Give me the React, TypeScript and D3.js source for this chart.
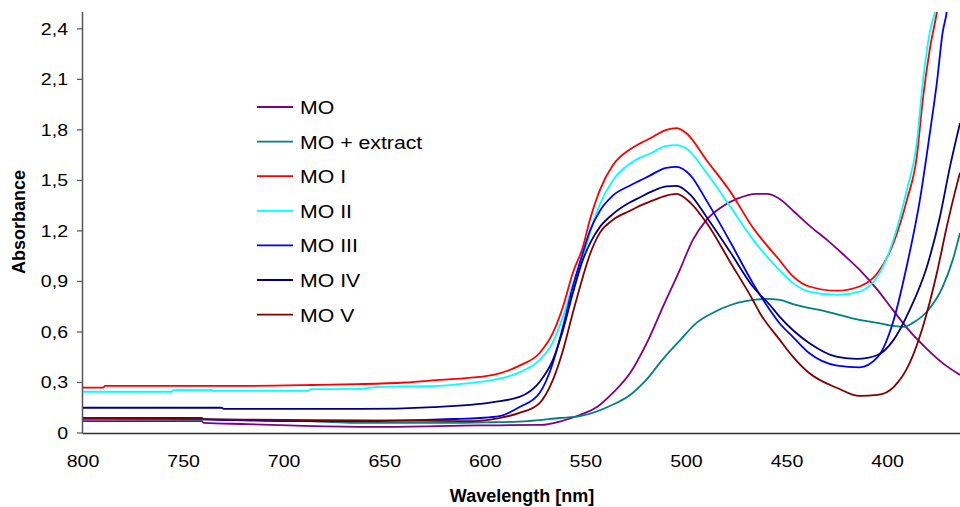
import * as d3 from 'd3';
import { useEffect, useRef } from 'react';

// [wavelength nm, absorbance]
const MO = [[800,0.07],[741,0.07],[740,0.06],[718,0.053],[690,0.042],[654,0.036],[603,0.045],[572,0.048],[563,0.068],[553,0.107],[544.5,0.154],[536.6,0.238],[528,0.356],[519.7,0.535],[511.7,0.749],[503.3,0.969],[496.8,1.147],[490,1.266],[483.4,1.335],[475,1.39],[465,1.42],[460,1.42],[453.6,1.39],[447,1.32],[438.7,1.23],[430,1.145],[422,1.06],[414,0.97],[405,0.85],[397,0.725],[389,0.605],[380.5,0.5],[372.6,0.415],[364,0.345]];
const MO_EXTRACT = [[800,0.083],[740,0.08],[700,0.075],[660,0.06],[620,0.06],[600,0.063],[579,0.071],[563,0.089],[553,0.1],[537,0.166],[528,0.226],[520,0.315],[512,0.434],[503,0.553],[495,0.654],[487,0.713],[478,0.76],[470,0.784],[460,0.796],[453.6,0.79],[447,0.765],[430,0.72],[414,0.672],[405,0.654],[397,0.636],[392,0.63],[387.5,0.654],[380.5,0.72],[372.6,0.868],[367.6,1.028],[364,1.188]];
const MO_I = [[800,0.27],[790,0.27],[789,0.28],[720,0.28],[686,0.285],[664,0.29],[640,0.3],[623,0.315],[603,0.333],[596,0.345],[583,0.4],[573,0.475],[566.4,0.594],[561.4,0.75],[556.5,0.95],[551.5,1.105],[548,1.266],[543,1.444],[536.6,1.59],[528,1.685],[523,1.72],[518,1.75],[510,1.8],[505,1.81],[500,1.78],[490,1.62],[478,1.43],[467,1.22],[454,1.03],[447,0.93],[439,0.87],[425,0.845],[414,0.87],[405,0.95],[397,1.13],[390.5,1.38],[385.5,1.64],[382.5,1.98],[379,2.28],[375.5,2.5],[372,2.8]];
const MO_II = [[800,0.245],[756,0.245],[755,0.255],[736,0.255],[735,0.25],[688,0.25],[687,0.26],[662,0.262],[654,0.273],[623,0.28],[603,0.303],[596,0.315],[583,0.36],[573,0.434],[566.4,0.54],[561.4,0.69],[556.5,0.88],[551.5,1.046],[548,1.188],[543,1.36],[536.6,1.5],[528,1.6],[523,1.635],[518,1.66],[510,1.705],[505,1.71],[500,1.69],[490,1.545],[478,1.34],[467,1.15],[454,0.97],[447,0.89],[439,0.84],[425,0.82],[414,0.84],[405,0.93],[397,1.15],[390.5,1.44],[385.5,1.72],[382.5,2.08],[379,2.38],[376.5,2.5],[373,2.8]];
const MO_III = [[800,0.09],[741,0.09],[740,0.083],[720,0.075],[700,0.071],[662,0.071],[616,0.083],[603,0.089],[593,0.1],[583,0.154],[573,0.238],[566.4,0.416],[561.4,0.63],[556.5,0.868],[551.5,1.07],[548,1.2],[543,1.32],[536.6,1.41],[528,1.47],[523,1.5],[518,1.53],[510,1.575],[505,1.58],[498,1.53],[490,1.38],[478,1.13],[467,0.89],[458.5,0.73],[453.6,0.65],[447,0.57],[439,0.475],[425,0.4],[414,0.39],[405,0.45],[397,0.67],[390.5,0.99],[384,1.38],[379,1.78],[375.5,2.08],[372.6,2.38],[370.6,2.5],[368,2.8]];
const MO_IV = [[800,0.15],[731,0.15],[730,0.143],[662,0.143],[626,0.154],[596,0.184],[583,0.214],[573,0.303],[566.4,0.434],[561.4,0.61],[556.5,0.83],[551.5,1.028],[548,1.125],[543,1.224],[536.6,1.3],[528,1.37],[523,1.4],[518,1.43],[510,1.465],[505,1.468],[498,1.414],[490,1.283],[478,1.07],[467,0.87],[458.5,0.76],[453.6,0.69],[447,0.61],[439,0.535],[425,0.452],[415,0.44],[405,0.463],[397,0.553],[389,0.731],[380.5,0.986],[374,1.283],[369,1.58],[364,1.84]];
const MO_V = [[800,0.09],[760,0.085],[720,0.08],[660,0.075],[606,0.071],[593,0.089],[583,0.119],[573,0.178],[566.4,0.315],[561.4,0.49],[556.5,0.713],[551.5,0.927],[548,1.06],[543,1.19],[536.6,1.265],[528,1.32],[523,1.35],[518,1.375],[510,1.41],[505,1.42],[498,1.367],[490,1.248],[478,1.01],[467,0.79],[463.5,0.713],[453.6,0.553],[447,0.452],[439,0.356],[425,0.267],[414,0.22],[405,0.226],[397,0.273],[389,0.416],[382.5,0.63],[375.5,0.95],[370.6,1.224],[366.6,1.426],[364,1.545]];

const seriesNames = ['MO', 'MO + extract', 'MO I', 'MO II', 'MO III', 'MO IV', 'MO V'];
const seriesData = [MO, MO_EXTRACT, MO_I, MO_II, MO_III, MO_IV, MO_V];
const seriesColors = ['#800080', '#008080', '#ff0000', '#00ffff', '#0000ff', '#000080', '#800000'];

const xTicks = [800, 750, 700, 650, 600, 550, 500, 450, 400];
const yTicks = [0, 0.3, 0.6, 0.9, 1.2, 1.5, 1.8, 2.1, 2.4];

export default function App() {
  const svgRef = useRef(null);

  useEffect(() => {
    const w = 960;
    const h = 507;
    const left = 83, right = 960, top = 12, bottom = 433;
    const svg = d3.select(svgRef.current);
    svg.selectAll('*').remove();
    svg.attr('width', w).attr('height', h).style('background', 'white');

    const x = d3.scaleLinear().domain([800, 364]).range([left, right]);
    const y = d3.scaleLinear().domain([0, 2.5]).range([bottom, top]);
    const font = "'Liberation Sans', Arial, sans-serif";

    svg.append('defs').append('clipPath').attr('id', 'plot')
      .append('rect').attr('x', left).attr('y', top)
      .attr('width', right - left).attr('height', bottom - top);

    const line = d3.line()
      .x(d => x(d[0]))
      .y(d => y(d[1]))
      .curve(d3.curveMonotoneX);

    const g = svg.append('g').attr('clip-path', 'url(#plot)');
    seriesData.forEach((s, i) => {
      g.append('path')
        .datum(s)
        .attr('d', line)
        .attr('fill', 'none')
        .attr('stroke', seriesColors[i])
        .attr('stroke-width', 1.8);
    });

    // axes
    svg.append('line').attr('x1', left).attr('x2', right)
      .attr('y1', bottom + 0.5).attr('y2', bottom + 0.5)
      .attr('stroke', '#333').attr('stroke-width', 1.5);
    svg.append('line').attr('x1', left - 0.5).attr('x2', left - 0.5)
      .attr('y1', top).attr('y2', bottom + 0.5)
      .attr('stroke', '#555').attr('stroke-width', 1.5);

    yTicks.forEach(t => {
      svg.append('line').attr('x1', left - 6).attr('x2', left)
        .attr('y1', y(t)).attr('y2', y(t))
        .attr('stroke', '#555').attr('stroke-width', 1.2);
      svg.append('text')
        .attr('transform', `translate(${68},${y(t) + 6}) scale(1.15,1)`)
        .attr('text-anchor', 'end')
        .style('font', `17px ${font}`)
        .attr('fill', '#000')
        .text(String(t).replace('.', ','));
    });

    xTicks.forEach(t => {
      svg.append('text')
        .attr('transform', `translate(${x(t)},${467}) scale(1.15,1)`)
        .attr('text-anchor', 'middle')
        .style('font', `17px ${font}`)
        .attr('fill', '#000')
        .text(t);
    });

    svg.append('text')
      .attr('transform', `translate(${25},${222}) rotate(-90)`)
      .attr('text-anchor', 'middle')
      .style('font', `bold 18px ${font}`)
      .text('Absorbance');

    svg.append('text')
      .attr('x', 522).attr('y', 502)
      .attr('text-anchor', 'middle')
      .style('font', `bold 18px ${font}`)
      .text('Wavelength [nm]');

    // legend
    const leg = svg.append('g');
    seriesNames.forEach((n, i) => {
      const ly = 107 + i * 34.6;
      leg.append('line').attr('x1', 257).attr('x2', 293)
        .attr('y1', ly).attr('y2', ly)
        .attr('stroke', seriesColors[i]).attr('stroke-width', 1.8);
      leg.append('text')
        .attr('transform', `translate(${300},${ly + 7}) scale(1.15,1)`)
        .style('font', `18.5px ${font}`)
        .attr('fill', '#000')
        .text(n);
    });
  }, []);

  return (
    <div>
      <svg ref={svgRef} style={{ position: 'absolute', left: 0, top: 0 }}></svg>
    </div>
  );
}
